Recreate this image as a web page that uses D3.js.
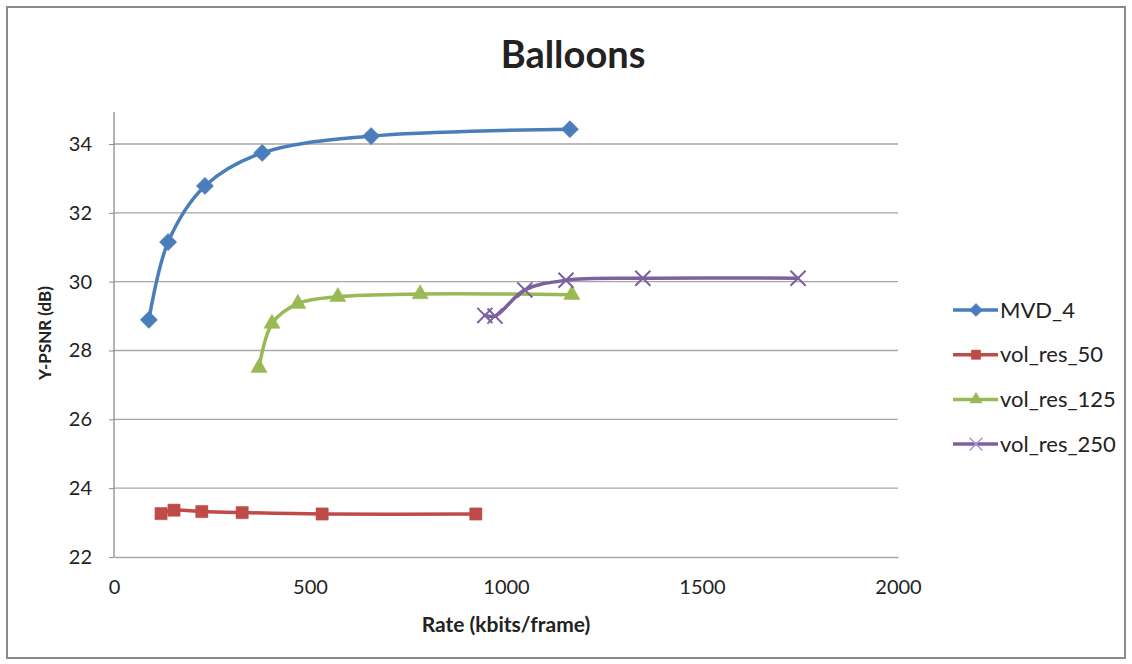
<!DOCTYPE html>
<html>
<head>
<meta charset="utf-8">
<script src="https://cdn.jsdelivr.net/npm/d3@7"></script>
<style>
body { margin:0; background:#fff; }
text { font-family: Lato, "Open Sans", sans-serif; fill:#222; }
</style>
</head>
<body>
<div id="graph"></div>
<script>
// values
var seriesNames = ["MVD_4", "vol_res_50", "vol_res_125", "vol_res_250"];
var mvdRate = [89, 138, 232, 378, 656, 1163];
var mvdPsnr = [28.89, 31.15, 32.78, 33.74, 34.23, 34.43];
var res50Rate = [120, 153, 224, 327, 531, 923];
var res50Psnr = [23.26, 23.36, 23.32, 23.29, 23.25, 23.25];
var res125Rate = [370, 403, 469, 571, 781, 1168];
var res125Psnr = [27.5, 28.78, 29.36, 29.56, 29.64, 29.62];
var res250Rate = [946, 972, 1048, 1153, 1349, 1745];
var res250Psnr = [29.02, 29.0, 29.76, 30.04, 30.1, 30.1];
var xTicks = [0, 500, 1000, 1500, 2000];
var yTicks = [22, 24, 26, 28, 30, 32, 34];

var width = 1132, height = 664;
var padding = {left:114, right:234, top:144, bottom:107};
var colors = ["#4a7ebb", "#be4b48", "#98b954", "#7d60a0"];
var symbols = [d3.symbolDiamond2, d3.symbolSquare2, d3.symbolTriangle2, d3.symbolX];

var series = [
	{name: seriesNames[0], rate: mvdRate, psnr: mvdPsnr},
	{name: seriesNames[1], rate: res50Rate, psnr: res50Psnr},
	{name: seriesNames[2], rate: res125Rate, psnr: res125Psnr},
	{name: seriesNames[3], rate: res250Rate, psnr: res250Psnr}
];

var graph = d3.select("div#graph")
	.append("svg")
	.attr("width", width)
	.attr("height", height);

// frame round the whole chart
graph.append("rect")
	.attr("x", 7).attr("y", 7)
	.attr("width", width - 14).attr("height", height - 13)
	.attr("fill", "none")
	.attr("stroke", "#8a8a8a")
	.attr("stroke-width", 2);

var xScale = d3.scaleLinear()
	.range([padding.left, width - padding.right])
	.domain([0, 2000]);

var yScale = d3.scaleLinear()
	.range([height - padding.bottom, padding.top])
	.domain([22, 34]);

var plotTop = yScale(34.93);

// grid lines
graph.append("g").selectAll("line")
	.data(yTicks.slice(1))
	.enter().append("line")
	.attr("x1", xScale(0)).attr("x2", xScale(2000))
	.attr("y1", d => yScale(d)).attr("y2", d => yScale(d))
	.attr("stroke", "#a6a6a6")
	.attr("stroke-width", 1.3);

var yAxis = d3.axisLeft(yScale)
	.tickValues(yTicks)
	.tickSize(5)
	.tickPadding(17);

var xAxis = d3.axisBottom(xScale)
	.tickValues(xTicks)
	.tickFormat(d3.format("d"))
	.tickSize(0)
	.tickPadding(23);

var gy = graph.append("g")
	.attr("class", "y axis")
	.attr("transform", `translate(${padding.left}, 0)`)
	.call(yAxis);
gy.select(".domain").remove();
gy.append("line")
	.attr("x1", 0).attr("x2", 0)
	.attr("y1", plotTop).attr("y2", yScale(22))
	.attr("stroke", "#8c8c8c").attr("stroke-width", 1.3);
gy.selectAll(".tick line").attr("stroke", "#8c8c8c");
gy.selectAll("text").style("font-size", "20px").attr("fill", "#333");

var gx = graph.append("g")
	.attr("class", "x axis")
	.attr("transform", `translate(0, ${height - padding.bottom})`)
	.call(xAxis);
gx.select(".domain").attr("stroke", "#a6a6a6").attr("stroke-width", 1.5);
gx.selectAll("text").style("font-size", "20px").attr("fill", "#333");

// titles
graph.append("text")
	.attr("x", 573).attr("y", 68)
	.style("text-anchor", "middle")
	.style("font-size", "38px")
	.style("font-weight", "bold")
	.attr("fill", "#111")
	.text("Balloons");

graph.append("text")
	.attr("x", padding.left + (width - padding.left - padding.right) / 2)
	.attr("y", 632)
	.style("text-anchor", "middle")
	.style("font-size", "21px")
	.style("font-weight", "bold")
	.text("Rate (kbits/frame)");

graph.append("text")
	.attr("transform", "rotate(-90)")
	.attr("x", -333)
	.attr("y", 51)
	.style("text-anchor", "middle")
	.style("font-size", "17px")
	.style("font-weight", "bold")
	.text("Y-PSNR (dB)");

var line = d3.line()
	.curve(d3.curveCatmullRom.alpha(0.5))
	.x(d => xScale(d[0]))
	.y(d => yScale(d[1]));

series.forEach(function(s, i) {
	var pts = s.rate.map((r, j) => [r, s.psnr[j]]);
	var g = graph.append("g").attr("id", s.name);
	g.append("path").datum(pts)
		.attr("fill", "none")
		.attr("stroke", colors[i])
		.attr("stroke-width", 3.5)
		.attr("stroke-linejoin", "round")
		.attr("stroke-linecap", "round")
		.attr("d", line);
	g.selectAll("path.marker")
		.data(pts)
		.enter().append("path")
		.attr("class", "marker")
		.attr("transform", d => `translate(${xScale(d[0])},${yScale(d[1])})`)
		.attr("d", d3.symbol().type(symbols[i]).size(i == 3 ? 150 : 190))
		.attr("fill", i == 3 ? "none" : colors[i])
		.attr("stroke", colors[i])
		.attr("stroke-width", i == 3 ? 2 : 0.5);
});

// legend
var legend = graph.append("g")
	.attr("class", "legend")
	.attr("transform", "translate(953, 0)");

var items = legend.selectAll("g.item")
	.data(series)
	.enter().append("g")
	.attr("class", "item")
	.attr("transform", (d, i) => `translate(0, ${310 + 44.7 * i})`);

items.append("line")
	.attr("x1", 0).attr("x2", 45)
	.attr("stroke", (d, i) => colors[i])
	.attr("stroke-width", 3.5);

items.append("path")
	.attr("transform", "translate(23,0)")
	.attr("d", (d, i) => d3.symbol().type(symbols[i]).size(110)())
	.attr("fill", (d, i) => i == 3 ? "none" : colors[i])
	.attr("stroke", (d, i) => i == 3 ? "#b58ee0" : colors[i])
	.attr("stroke-width", (d, i) => i == 3 ? 1.5 : 0.5);

items.append("text")
	.attr("x", 47)
	.attr("dy", "0.35em")
	.style("font-size", "22px")
	.text(d => d.name);
</script>
</body>
</html>
